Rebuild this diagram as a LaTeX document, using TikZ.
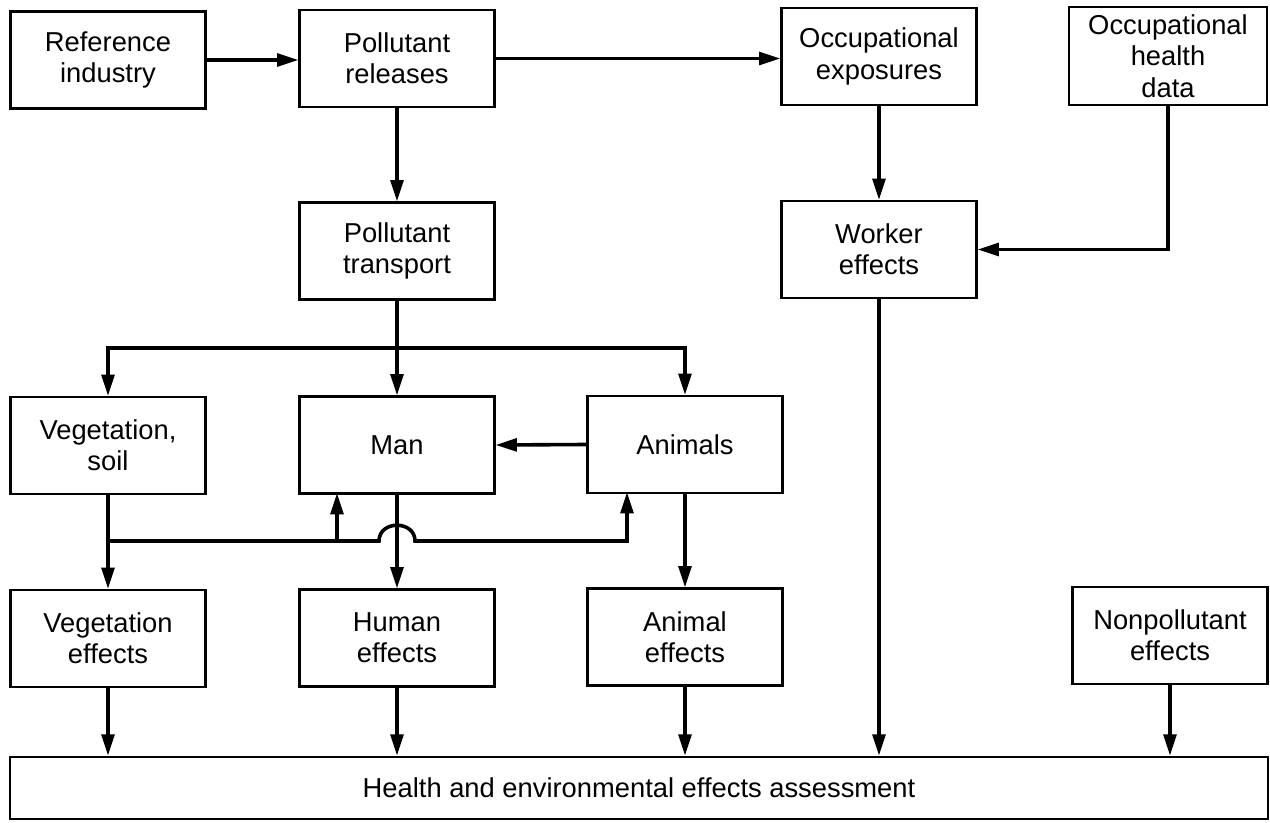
\documentclass[tikz,border=0pt]{standalone}
\usepackage{fontspec}
\setmainfont{Liberation Sans}
\usepackage{tikz}
\usetikzlibrary{arrows.meta}

\tikzset{
  blk/.style={draw, line width=1.8pt, minimum width=146pt, minimum height=72.5pt,
    inner sep=0pt, align=center, font=\fontsize{20.5}{23.5}\selectfont},
  flow/.style={line width=2.7pt, -{Triangle[length=16pt,width=9.5pt]}},
  wire/.style={line width=2.7pt},
}

\begin{document}
\begin{tikzpicture}[x=0.75pt,y=0.75pt,yscale=-1,xscale=1]
\useasboundingbox (0,0) rectangle (1270,823);

% Text Node
\draw (108,60) node [blk] (ref) {Reference\\industry};
% Text Node
\draw (397,58.5) node [blk] (rel) {Pollutant\\releases};
% Text Node
\draw (879,56.5) node [blk] (occ) {Occupational\\exposures};
% Text Node
\draw (1168,56) node [blk, minimum width=148.5pt, minimum height=73.5pt] (ohd) {Occupational\\health\\data};
% Text Node
\draw (397,251) node [blk] (trans) {Pollutant\\transport};
% Text Node
\draw (879,249.5) node [blk] (work) {Worker\\effects};
% Text Node
\draw (108,445.5) node [blk] (veg) {Vegetation,\\soil};
% Text Node
\draw (397,445) node [blk] (man) {Man};
% Text Node
\draw (685,444.5) node [blk] (anim) {Animals};
% Text Node
\draw (108,638.5) node [blk] (vegeff) {Vegetation\\effects};
% Text Node
\draw (397,638) node [blk] (humeff) {Human\\effects};
% Text Node
\draw (685,637) node [blk] (animeff) {Animal\\effects};
% Text Node
\draw (1170,635.5) node [blk] (nonpol) {Nonpollutant\\effects};
% Text Node
\draw (639,788) node [blk, minimum width=943.5pt, minimum height=46.5pt] (assess) {Health and environmental effects assessment};

%Connectors: releases and occupational side
\draw [flow] (ref.east) -- (ref.east -| rel.west);
\draw [flow] (rel.east) -- (rel.east -| occ.west);
\draw [flow] (rel.south) -- (trans.north);
\draw [flow] (occ.south) -- (work.north);
\draw [flow] (ohd.south) |- (work.east);

%Connectors: transport to receptors
\coordinate (dist) at (397,348);
\draw [flow] (trans.south) -- (man.north);
\draw [flow] (dist) -| (veg.north);
\draw [flow] (dist) -| (anim.north);
\draw [flow] (anim.west) -- (man.east);

%Connectors: vegetation feed with line hop over man
\coordinate (bus) at (108,541);
\coordinate (manin) at (337,493);
\coordinate (animin) at (627,492);
\coordinate (hopL) at (379,541);
\coordinate (hopR) at (415,541);
\draw [flow] (veg.south) -- (vegeff.north);
\draw [flow] (bus) -- (hopL) .. controls (379,520) and (415,520) .. (hopR) -| (animin);
\draw [flow] (manin |- bus) -- (manin);
\draw [flow] (man.south) -- (humeff.north);
\draw [flow] (anim.south) -- (animeff.north);

%Connectors: into assessment
\foreach \n in {vegeff, humeff, animeff, work, nonpol}
  \draw [flow] (\n.south) -- (\n.south |- assess.north);

\end{tikzpicture}
\end{document}
